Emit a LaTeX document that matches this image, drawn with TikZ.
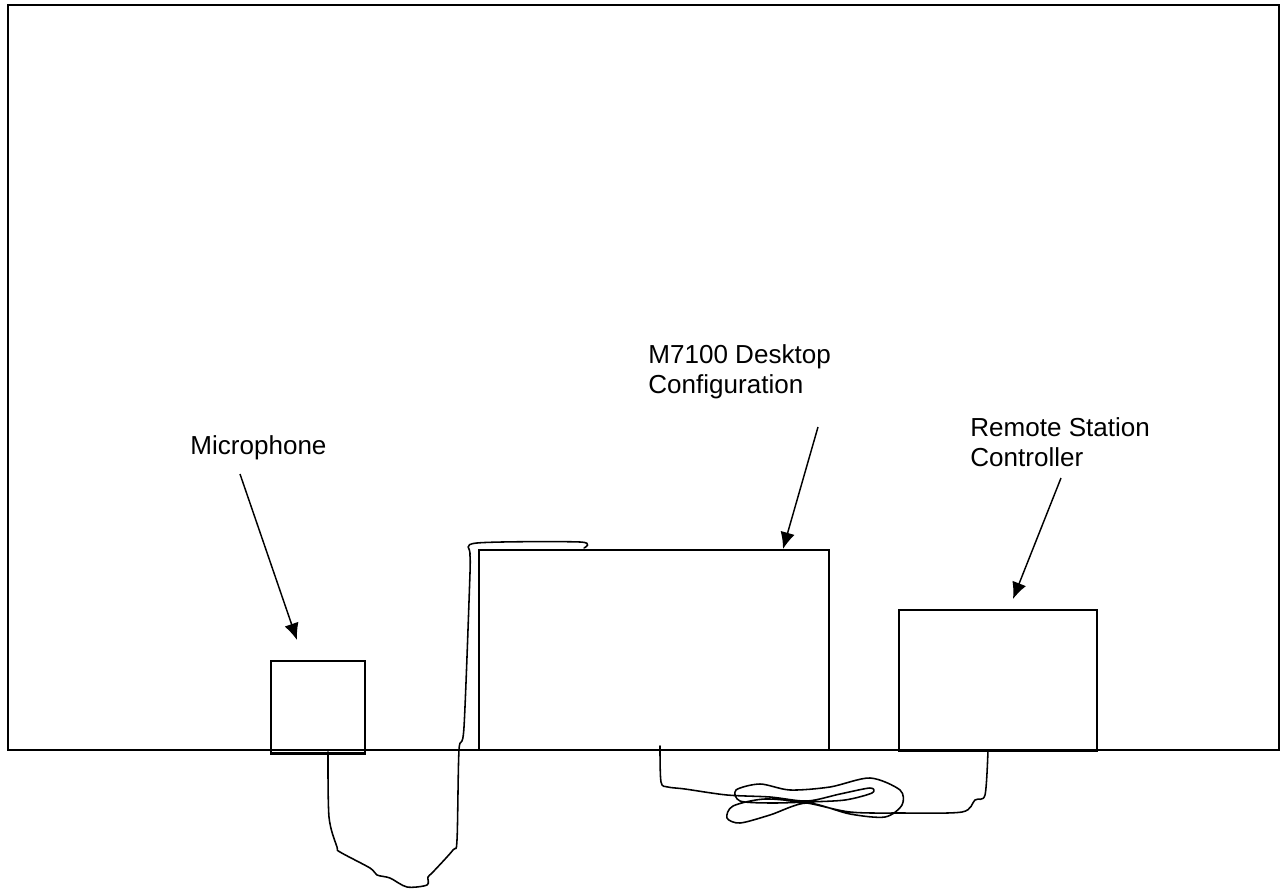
\documentclass[tikz,border=0pt]{standalone}
\usepackage{fontspec}
\setmainfont{Liberation Sans}
\usetikzlibrary{arrows.meta}

\tikzset{
  box/.style={draw,line width=0.9pt,minimum width=#1,inner sep=0pt,anchor=north west},
  lbl/.style={inner sep=0pt,anchor=north west,align=left,font=\fontsize{12.5pt}{14.6pt}\selectfont},
  pointer/.style={line width=0.7pt,-{Latex[length=8pt,width=7pt]}},
  cable/.style={line width=0.75pt,line cap=round,line join=round}
}

\begin{document}
\begin{tikzpicture}[x=0.48pt,y=-0.48pt]
  \useasboundingbox (0,0) rectangle (1281,890);

  % Draw the frame
  \draw[line width=0.8pt] (8,5) rectangle (1279,750);

  % Draw the boxes
  \node[box=94*0.48pt,minimum height=92*0.48pt] (mic) at (270,660) {};
  \node[box=350*0.48pt,minimum height=200*0.48pt] (desk) at (478,549) {};
  \node[box=198*0.48pt,minimum height=141*0.48pt] (rsc) at (898,609) {};
  \draw[line width=1.4pt] (mic.south west) -- (mic.south east);

  % Draw the labels
  \node[lbl] (miclbl) at (190,435) {Microphone};
  \node[lbl] (desklbl) at (648,344) {M7100 Desktop\\Configuration};
  \node[lbl] (rsclbl) at (970,417) {Remote Station\\Controller};

  % Draw the arrows
  \coordinate (micA) at (240,474);
  \coordinate (micB) at (297,640);
  \coordinate (deskA) at (818,427);
  \coordinate (deskB) at (783,549);
  \coordinate (rscA) at (1061,478);
  \coordinate (rscB) at (1013,599);
  \draw[pointer] (micA) -- (micB);
  \draw[pointer] (deskA) -- (deskB);
  \draw[pointer] (rscA) -- (rscB);

  % Draw the cables
  \coordinate (micplug) at (328,752);
  \coordinate (deskin) at (584,548);
  \coordinate (deskout) at (660,746);
  \coordinate (rscin) at (988,750);
  \draw[cable] plot[smooth,tension=0.5] coordinates {
    (micplug) (329,817) (337,847) (340,852) (370,868) (377,875)
    (390,878) (407,887) (427,885) (428,877) (433,872) (453,850)
    (457,840) (459,750) (464,727) (470,573) (470,553) (477,543)
    (580,542) (deskin)};
  \draw[cable] plot[smooth,tension=0.5] coordinates {
    (deskout) (661,782) (668,787) (685,789) (727,795) (770,797)
    (807,801) (840,794) (870,788) (872,793) (845,800) (807,802)
    (770,803) (740,801) (736,790) (760,784) (790,790) (830,787)
    (870,778) (900,790) (902,805) (885,817) (850,814) (807,803)
    (770,815) (740,823) (727,818) (733,806) (765,799) (807,803)
    (850,812) (900,813) (962,812) (975,800) (985,795) (rscin)};
\end{tikzpicture}
\end{document}
